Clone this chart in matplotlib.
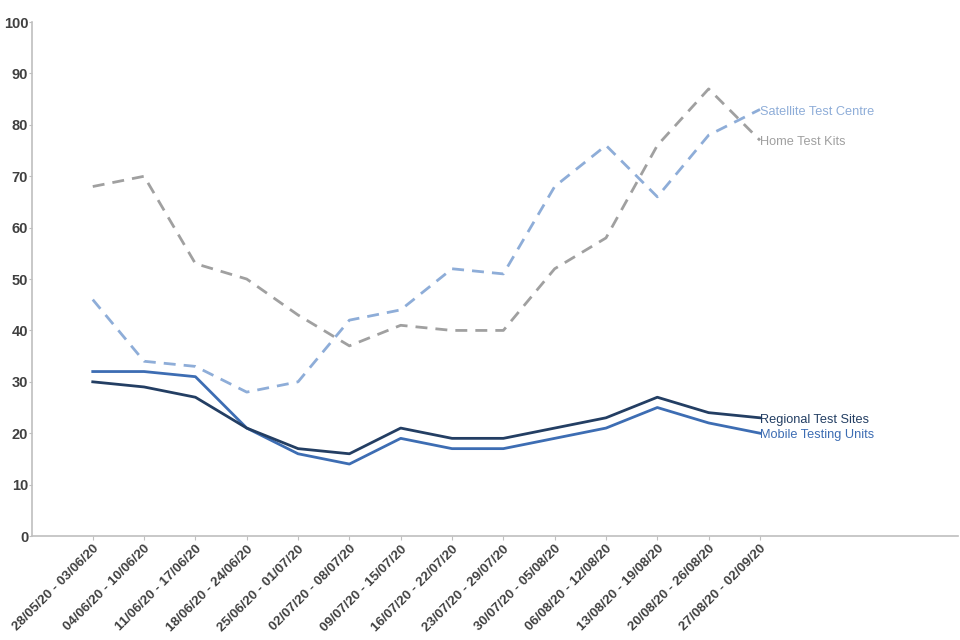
import numpy as np
import matplotlib.pyplot as plt

plt.rcParams['font.family'] = ['Liberation Sans', 'DejaVu Sans']

# weekly periods
weeks = ['28/05/20 - 03/06/20', '04/06/20 - 10/06/20', '11/06/20 - 17/06/20',
         '18/06/20 - 24/06/20', '25/06/20 - 01/07/20', '02/07/20 - 08/07/20',
         '09/07/20 - 15/07/20', '16/07/20 - 22/07/20', '23/07/20 - 29/07/20',
         '30/07/20 - 05/08/20', '06/08/20 - 12/08/20', '13/08/20 - 19/08/20',
         '20/08/20 - 26/08/20', '27/08/20 - 02/09/20']

regional = [30, 29, 27, 21, 17, 16, 21, 19, 19, 21, 23, 27, 24, 23]
mobile = [32, 32, 31, 21, 16, 14, 19, 17, 17, 19, 21, 25, 22, 20]
satellite = [46, 34, 33, 28, 30, 42, 44, 52, 51, 68, 76, 66, 78, 83]
home = [68, 70, 53, 50, 43, 37, 41, 40, 40, 52, 58, 76, 87, 77]

x = np.arange(len(weeks))

fig = plt.figure(figsize=(9.6, 6.4), dpi=100)
ax = fig.add_axes([0.033, 0.1625, 0.965, 0.803])

series = [
    ('Home Test Kits', home, '#A0A0A0', '--'),
    ('Satellite Test Centre', satellite, '#8EADD8', '--'),
    ('Mobile Testing Units', mobile, '#3D6DB3', '-'),
    ('Regional Test Sites', regional, '#233E63', '-'),
]
for name, vals, col, ls in series:
    line, = ax.plot(x, vals, color=col, lw=2, linestyle=ls)
    if ls == '--':
        line.set_dashes((4.3, 2.9))
    ax.annotate(name, (x[-1], vals[-1]), xytext=(0, -1.5), textcoords='offset points',
                color=col, fontsize=9.2, ha='left', va='center')

ax.set_ylim(0, 100)
ax.set_xlim(-1.19, 16.86)
ax.set_yticks(range(0, 101, 10))
ax.set_xticks(x)
ax.set_xticklabels(weeks, rotation=45, ha='right', rotation_mode='anchor')

for s in ['top', 'right']:
    ax.spines[s].set_visible(False)
for s in ['left', 'bottom']:
    ax.spines[s].set_color('#BFBFBF')
    ax.spines[s].set_linewidth(1.2)

ax.tick_params(axis='y', colors='#BFBFBF', length=2, labelcolor='#404040', labelsize=10.5, pad=0.5)
ax.tick_params(axis='x', colors='#BFBFBF', length=3, labelcolor='#404040', labelsize=9.6, pad=2)
for lab in ax.get_xticklabels() + ax.get_yticklabels():
    lab.set_fontweight('bold')

plt.savefig('out.png')
